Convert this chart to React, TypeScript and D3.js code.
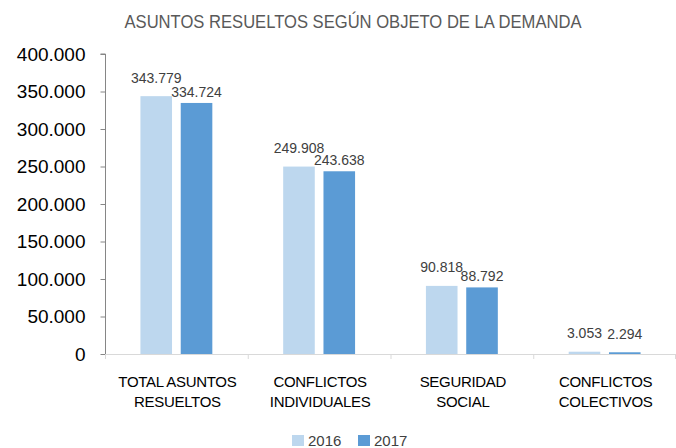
import React, { useEffect, useRef } from 'react';
import * as d3 from 'd3';

const categories = [
  ['TOTAL ASUNTOS', 'RESUELTOS'],
  ['CONFLICTOS', 'INDIVIDUALES'],
  ['SEGURIDAD', 'SOCIAL'],
  ['CONFLICTOS', 'COLECTIVOS'],
];
const series = ['2016', '2017'];
const values2016 = [343779, 249908, 90818, 3053];
const values2017 = [334724, 243638, 88792, 2294];
const yTicks = [0, 50000, 100000, 150000, 200000, 250000, 300000, 350000, 400000];
const colors = ['#BDD7EE', '#5B9BD5'];

const fmt = (v: number) => d3.format(',')(v).replace(/,/g, '.');

function App() {
  const ref = useRef<SVGSVGElement>(null);

  useEffect(() => {
    const width = 676;
    const height = 448;
    const marginLeft = 105;
    const marginRight = 0;
    const marginTop = 54;
    const marginBottom = 94;
    const font = '"Liberation Sans", Arial, sans-serif';

    const svg = d3.select(ref.current);
    svg.selectAll('*').remove();

    const x0 = d3.scaleBand<number>()
      .domain(d3.range(categories.length))
      .range([marginLeft, width - marginRight])
      .paddingInner(0)
      .paddingOuter(0);
    const x1 = d3.scaleBand<string>()
      .domain(series)
      .range([0, x0.step()])
      .paddingInner(0.216)
      .paddingOuter(0.879);
    const y = d3.scaleLinear([0, 400000], [height - marginBottom, marginTop]);

    // title
    svg.append('text')
      .attr('x', 353)
      .attr('y', 28)
      .attr('text-anchor', 'middle')
      .attr('font-family', font)
      .attr('font-size', 18)
      .attr('fill', '#595959')
      .attr('textLength', 457)
      .attr('lengthAdjust', 'spacingAndGlyphs')
      .text('ASUNTOS RESUELTOS SEGÚN OBJETO DE LA DEMANDA');

    // y axis
    const yAxis = d3.axisLeft(y)
      .tickValues(yTicks)
      .tickSize(5)
      .tickPadding(15)
      .tickFormat((d) => fmt(+d));
    svg.append('g')
      .attr('transform', `translate(${marginLeft + 0.5},0)`)
      .call(yAxis)
      .call((g) => g.selectAll('.domain').attr('stroke', '#868686').attr('d', `M-5,${y(400000)}H0V${y(0)}`))
      .call((g) => g.selectAll('.tick line').attr('stroke', '#868686'))
      .call((g) => g.selectAll('.tick text')
        .attr('font-family', font)
        .attr('font-size', 19)
        .attr('fill', '#000'));

    // x axis line and ticks
    const xa = svg.append('g').attr('stroke', '#d9d9d9');
    xa.append('line')
      .attr('x1', marginLeft)
      .attr('x2', width)
      .attr('y1', y(0) + 0.5)
      .attr('y2', y(0) + 0.5);
    xa.selectAll('line.tk')
      .data(d3.range(categories.length + 1))
      .join('line')
      .attr('class', 'tk')
      .attr('x1', (i) => Math.min(marginLeft + i * x0.step(), width - 1) + 0.5)
      .attr('x2', (i) => Math.min(marginLeft + i * x0.step(), width - 1) + 0.5)
      .attr('y1', y(0))
      .attr('y2', y(0) + 5);

    // bars
    const rows = categories.map((c, i) => ({ i, vals: [values2016[i], values2017[i]] }));
    const groups = svg.append('g')
      .selectAll('g')
      .data(rows)
      .join('g')
      .attr('transform', (d) => `translate(${x0(d.i)},0)`);

    groups.selectAll('rect')
      .data((d) => d.vals.map((v, k) => ({ key: series[k], v, k })))
      .join('rect')
      .attr('x', (d) => x1(d.key)!)
      .attr('width', x1.bandwidth())
      .attr('y', (d) => y(d.v))
      .attr('height', (d) => y(0) - y(d.v))
      .attr('fill', (d) => colors[d.k]);

    // data labels, second one drops closer to its bar when the two collide
    const labelSize = 14;
    const charW = (s: string) => s.replace(/\./g, '').length * 0.556 * labelSize + (s.split('.').length - 1) * 0.278 * labelSize;
    groups.each(function (d) {
      const g = d3.select(this);
      const [a, b] = d.vals;
      const sa = fmt(a);
      const sb = fmt(b);
      const overlap = (charW(sa) + charW(sb)) / 2 > x1.step();
      const ya = y(a) - 13.5;
      const yb = overlap ? y(b) - 6 : y(b) - 13;
      [[sa, ya, series[0]], [sb, yb, series[1]]].forEach(([s, yy, key]) => {
        g.append('text')
          .attr('x', x1(key as string)! + x1.bandwidth() / 2)
          .attr('y', yy as number)
          .attr('text-anchor', 'middle')
          .attr('font-family', font)
          .attr('font-size', labelSize)
          .attr('fill', '#404040')
          .text(s as string);
      });
    });

    // category labels
    svg.append('g')
      .selectAll('text')
      .data(categories)
      .join('text')
      .attr('x', (d, i) => x0(i)! + x0.bandwidth() / 2 + 1)
      .attr('y', 387)
      .attr('text-anchor', 'middle')
      .attr('font-family', font)
      .attr('font-size', 15)
      .attr('letter-spacing', -0.3)
      .attr('fill', '#000')
      .selectAll('tspan')
      .data((d) => d)
      .join('tspan')
      .attr('x', function () { return (this.parentNode as SVGTextElement).getAttribute('x'); })
      .attr('dy', (d, j) => (j === 0 ? 0 : 20))
      .text((d) => d);

    // legend
    const legend = svg.append('g');
    const lx = [292, 358];
    series.forEach((s, k) => {
      legend.append('rect')
        .attr('x', lx[k])
        .attr('y', 435)
        .attr('width', 12)
        .attr('height', 11)
        .attr('fill', colors[k]);
      legend.append('text')
        .attr('x', lx[k] + 16)
        .attr('y', 446)
        .attr('font-family', font)
        .attr('font-size', 15)
        .attr('fill', '#404040')
        .text(s);
    });
  });

  return (
    <svg
      ref={ref}
      width={676}
      height={448}
      viewBox="0 0 676 448"
      style={{ position: 'absolute', left: 0, top: 0, background: '#fff' }}
    />
  );
}

export default App;
